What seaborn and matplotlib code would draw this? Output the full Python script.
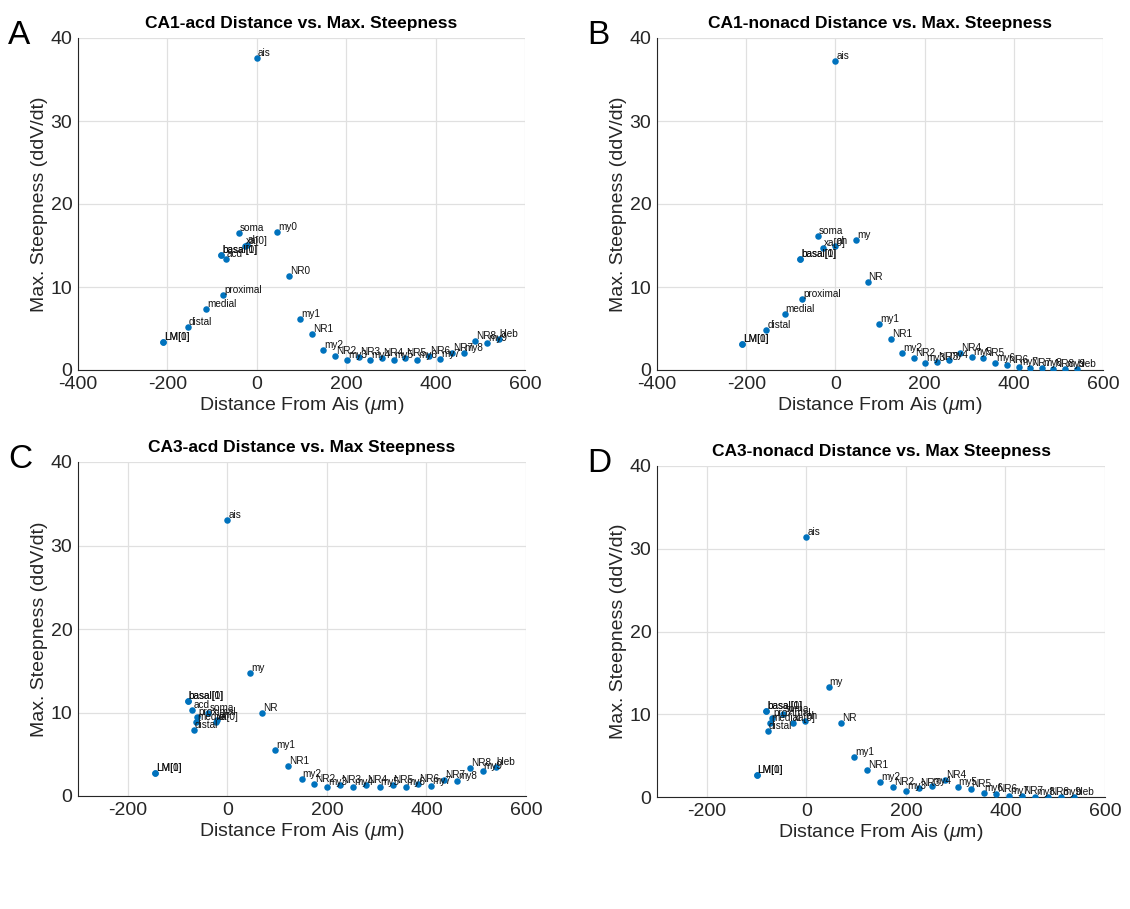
import matplotlib
matplotlib.use("Agg")
import matplotlib.pyplot as plt
import seaborn as sns
import pandas as pd

# ---------------- data ----------------
a_names = ["LM[0]", "LM[1]", "distal", "medial", "proximal", "basal[0]", "basal[1]", "acd", "soma",
           "xa[0]", "ah", "ais", "my0", "NR0", "my1", "NR1", "my2", "NR2", "my3", "NR3", "my4", "NR4",
           "my5", "NR5", "my6", "NR6", "my7", "NR7", "my8", "NR8", "my9", "bleb"]
a_dist = [-210, -210, -155, -114, -75, -80, -80, -70, -40, -26, -22, 0, 45, 72, 97, 123, 149, 176,
          202, 228, 254, 280, 306, 332, 358, 385, 410, 437, 463, 489, 515, 541]
a_steep = [3.4, 3.4, 5.15, 7.3, 9.0, 13.8, 13.8, 13.4, 16.5, 15.0, 15.1, 37.6, 16.6, 11.3, 6.2, 4.3,
           2.4, 1.65, 1.2, 1.57, 1.24, 1.5, 1.24, 1.5, 1.24, 1.7, 1.36, 2.1, 2.0, 3.5, 3.2, 3.7]

b_names = ["LM[0]", "LM[1]", "distal", "medial", "proximal", "basal[0]", "basal[1]", "soma",
           "xa[0]", "ah", "ais", "my", "NR", "my1", "NR1", "my2", "NR2", "my3", "NR3", "my4", "NR4",
           "my5", "NR5", "my6", "NR6", "my7", "NR7", "my8", "NR8", "my9", "bleb"]
b_dist = [-210, -210, -155, -114, -75, -79, -79, -39, -27, 0, 0, 46, 72, 98, 125, 150, 176, 202,
          228, 254, 280, 306, 332, 358, 385, 411, 437, 463, 489, 515, 541]
b_steep = [3.1, 3.1, 4.8, 6.7, 8.6, 13.4, 13.4, 16.2, 14.7, 15.0, 37.2, 15.7, 10.6, 5.6, 3.7, 2.1,
           1.45, 0.84, 0.93, 1.24, 2.0, 1.57, 1.5, 0.9, 0.64, 0.36, 0.24, 0.2, 0.15, 0.15, 0.15]

c_names = ["LM[0]", "LM[1]", "basal[0]", "basal[1]", "acd", "proximal", "medial", "distal", "soma",
           "xa[0]", "ah", "ais", "my", "NR", "my1", "NR1", "my2", "NR2", "my3", "NR3", "my4", "NR4",
           "my5", "NR5", "my6", "NR6", "my7", "NR7", "my8", "NR8", "my9", "bleb"]
c_dist = [-146, -146, -80, -80, -70, -60, -63, -67, -38, -23, -20, 0, 46, 70, 96, 122, 149, 175,
          201, 227, 253, 279, 306, 332, 358, 384, 409, 435, 461, 487, 513, 539]
c_steep = [2.8, 2.8, 11.4, 11.4, 10.3, 9.5, 8.9, 7.95, 9.9, 8.9, 9.1, 33.0, 14.7, 9.9, 5.5, 3.6,
           2.0, 1.4, 1.04, 1.37, 1.04, 1.37, 1.04, 1.37, 1.1, 1.48, 1.2, 1.96, 1.8, 3.35, 3.0, 3.5]

d_names = ["LM[0]", "LM[1]", "basal[0]", "basal[1]", "proximal", "medial", "distal", "soma",
           "xa[0]", "ah", "ais", "my", "NR", "my1", "NR1", "my2", "NR2", "my3", "NR3", "my4", "NR4",
           "my5", "NR5", "my6", "NR6", "my7", "NR7", "my8", "NR8", "my9", "bleb"]
d_dist = [-100, -100, -81, -81, -69, -72, -78, -46, -27, -2, 0, 45, 70, 96, 122, 148, 174, 200,
          226, 252, 279, 304, 330, 356, 382, 408, 434, 460, 486, 512, 538]
d_steep = [2.6, 2.6, 10.4, 10.4, 9.6, 9.0, 8.0, 10.0, 9.0, 9.2, 31.4, 13.3, 9.0, 4.8, 3.3, 1.8,
           1.2, 0.7, 1.1, 1.3, 2.0, 1.25, 0.97, 0.53, 0.33, 0.12, 0.1, 0.05, 0.05, 0.05, 0.05]

titles = ["CA1-acd Distance vs. Max. Steepness", "CA1-nonacd Distance vs. Max. Steepness",
          "CA3-acd Distance vs. Max Steepness", "CA3-nonacd Distance vs. Max Steepness"]
letters = ["A", "B", "C", "D"]
xlims = [(-400, 600), (-400, 600), (-300, 600), (-300, 600)]
xticks = [[-400, -200, 0, 200, 400, 600], [-400, -200, 0, 200, 400, 600],
          [-200, 0, 200, 400, 600], [-200, 0, 200, 400, 600]]
yticks = [0, 10, 20, 30, 40]

# ---------------- style ----------------
sns.set_theme(style="whitegrid")
plt.rcParams['font.family'] = ['Liberation Sans', 'DejaVu Sans']
plt.rcParams['axes.unicode_minus'] = False
plt.rcParams['mathtext.fontset'] = 'custom'
plt.rcParams['mathtext.it'] = 'Liberation Sans:italic'
plt.rcParams['mathtext.rm'] = 'Liberation Sans'

W, H = 1130, 909
fig = plt.figure(figsize=(W / 100, H / 100), dpi=100)

# axes boxes in pixels: left, top, right, bottom
boxes = [(78, 38, 525, 370), (657, 38, 1103, 370), (78, 462, 526, 796), (657, 466, 1105, 797)]
panels = [(a_names, a_dist, a_steep), (b_names, b_dist, b_steep),
          (c_names, c_dist, c_steep), (d_names, d_dist, d_steep)]
blue = "#0072BD"
dark = "#262626"

for i, ((names, dist, steep), (l, t, r, b)) in enumerate(zip(panels, boxes)):
    ax = fig.add_axes([l / W, 1 - b / H, (r - l) / W, (b - t) / H])
    df = pd.DataFrame({"name": names, "dist": dist, "steep": steep})
    sns.scatterplot(data=df, x="dist", y="steep", ax=ax, color=blue, s=22,
                    edgecolor=blue, linewidth=0, zorder=3)
    for _, row in df.iterrows():
        ax.annotate(row["name"], (row["dist"], row["steep"]), xytext=(1, 5),
                    textcoords="offset pixels", fontsize=7.2, color="#111111",
                    ha="left", va="center", zorder=4)
    ax.set_xlim(*xlims[i])
    ax.set_ylim(0, 40)
    ax.set_xticks(xticks[i])
    ax.set_yticks(yticks)
    ax.set_facecolor("white")
    ax.grid(True, color="#e0e0e0", linewidth=0.9)
    for s in ["top", "right"]:
        ax.spines[s].set_visible(False)
    for s in ["left", "bottom"]:
        ax.spines[s].set_color(dark)
        ax.spines[s].set_linewidth(0.8)
    ax.tick_params(axis="both", direction="in", length=4, width=0.8, colors=dark,
                   labelsize=14, labelcolor=dark, pad=4)
    ax.set_xlabel(r"Distance From Ais ($\mu$m)", fontsize=14, color=dark, labelpad=2)
    ax.set_ylabel("Max. Steepness (ddV/dt)", fontsize=14, color=dark, labelpad=2)
    ax.set_title(titles[i], fontsize=12.5, fontweight="bold", color="black", pad=7)
    fig.text((l - 70) / W, 1 - (t - 2) / H, letters[i], fontsize=24, color="black",
             ha="left", va="center")

fig.savefig("out.png", dpi=100)
